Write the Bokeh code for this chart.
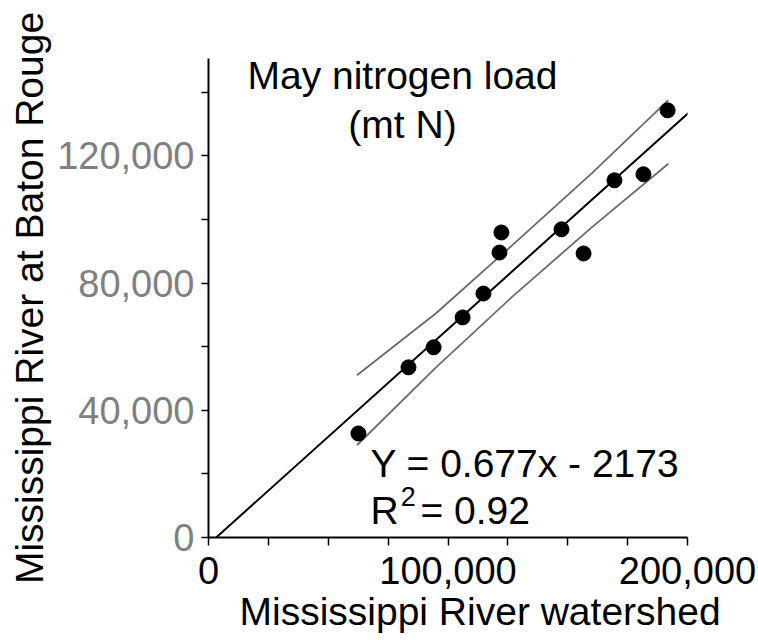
from bokeh.plotting import figure
from bokeh.models import Range1d, FixedTicker, NumeralTickFormatter, Slope, Label, Title
from bokeh.embed import file_html
from bokeh.resources import INLINE

# Data (metric tons N, May)
watershed = [62600, 83500, 94000, 106100, 114800, 121500, 122300, 147400, 156600, 169500, 181600, 191700]
baton_rouge = [32700, 53500, 59800, 69200, 76700, 89600, 95900, 96900, 89300, 112300, 114200, 134300]

# Confidence band
band_x = [62000, 95000, 127000, 160000, 192000]
band_upper = [51000, 70500, 92000, 114500, 137500]
band_lower = [29000, 53500, 75800, 97500, 117500]

# Regression shown on chart
slope = 0.677
intercept = -2173
r2_text = "0.92"

x_ticks = [0, 100000, 200000]
x_minor = [25000, 50000, 75000, 125000, 150000, 175000]
y_ticks = [0, 40000, 80000, 120000]
y_minor = [20000, 60000, 100000, 140000]

FONT = "Liberation Sans"

p = figure(width=758, height=644, output_backend="svg", toolbar_location=None,
           x_range=Range1d(0, 200000), y_range=Range1d(0, 150600),
           min_border_left=208, min_border_right=71, min_border_top=58, min_border_bottom=107)
p.background_fill_color = "white"
p.border_fill_color = "white"
p.outline_line_color = None
p.xgrid.grid_line_color = None
p.ygrid.grid_line_color = None

# X axis
xa = p.xaxis[0]
xa.ticker = FixedTicker(ticks=x_ticks, minor_ticks=x_minor)
xa.formatter = NumeralTickFormatter(format="0,0")
xa.major_label_text_font = FONT
xa.major_label_text_font_size = "38px"
xa.major_label_text_color = "black"
xa.major_label_standoff = 11
xa.axis_line_width = 2
xa.axis_line_color = "black"
xa.major_tick_out = 8
xa.major_tick_in = 0
xa.minor_tick_out = 8
xa.minor_tick_in = 0
xa.major_tick_line_width = 1.5
xa.minor_tick_line_width = 1.5

# Y axis
ya = p.yaxis[0]
ya.ticker = FixedTicker(ticks=y_ticks, minor_ticks=y_minor)
ya.formatter = NumeralTickFormatter(format="0,0")
ya.major_label_text_font = FONT
ya.major_label_text_font_size = "38px"
ya.major_label_text_color = "#7f7f7f"
ya.major_label_standoff = 7
ya.axis_line_width = 2
ya.axis_line_color = "black"
ya.major_tick_out = 7
ya.major_tick_in = 0
ya.minor_tick_out = 7
ya.minor_tick_in = 0
ya.major_tick_line_width = 1.5
ya.minor_tick_line_width = 1.5
ya.axis_label = "Mississippi River at Baton Rouge"
ya.axis_label_text_font = FONT
ya.axis_label_text_font_size = "39px"
ya.axis_label_text_font_style = "normal"
ya.axis_label_text_color = "black"
ya.axis_label_standoff = 3

# X axis title, shifted right like the reference
xt = Title(text="Mississippi River watershed", align="left", offset=31,
           text_font=FONT, text_font_size="39px", text_font_style="normal",
           text_color="black", standoff=3)
p.add_layout(xt, "below")

# Confidence bands
p.line(band_x, band_upper, line_color="#6a6a6a", line_width=1.8)
p.line(band_x, band_lower, line_color="#6a6a6a", line_width=1.8)

# Regression line
p.add_layout(Slope(gradient=slope, y_intercept=intercept, line_color="black", line_width=2))

# Points
p.scatter(watershed, baton_rouge, size=15, color="black")

def lab(text, x, y, size="39px", align="left"):
    l = Label(x=x, y=y, text=text, text_font=FONT, text_font_size=size,
              text_color="black", text_align=align, text_baseline="alphabetic")
    p.add_layout(l)
    return l

lab("May nitrogen load", 81000, 145100, align="center")
lab("(mt N)", 81000, 129700, align="center")
lab(f"Y = {slope}x - {abs(intercept)}", 67600, 23400)
lab("R", 67600, 8600)
lab("2", 80300, 13000, size="27px")
lab(f"= {r2_text}", 88500, 8600)

open("out.html", "w").write(file_html(p, INLINE))
